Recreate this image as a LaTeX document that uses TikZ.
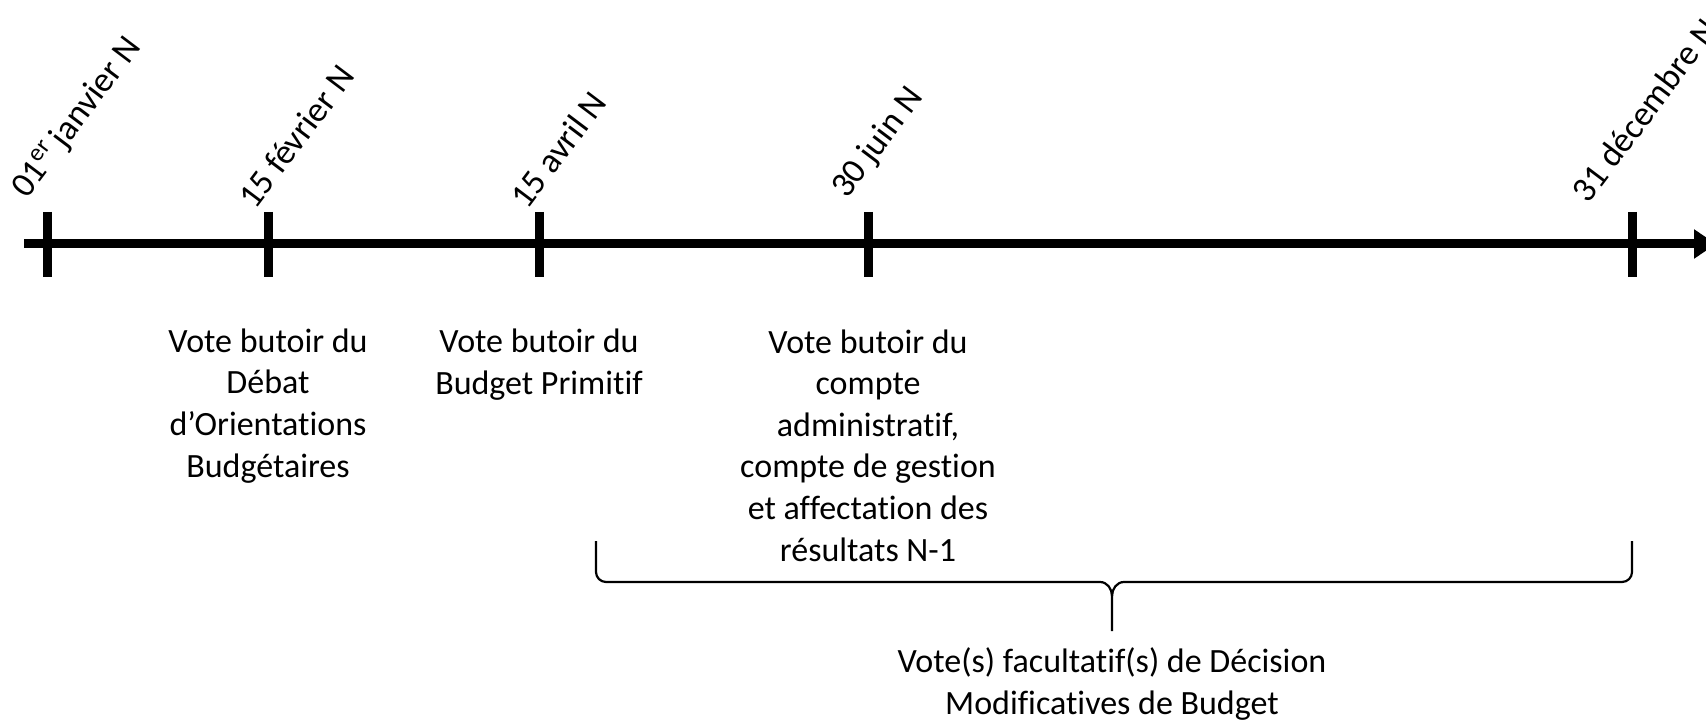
\documentclass[tikz,border=0pt]{standalone}
\usepackage{fontspec}
\setmainfont{Carlito}[Ligatures=NoCommon]
\usetikzlibrary{arrows.meta}
\begin{document}
\begin{tikzpicture}[x=0.5pt,y=-0.5pt,
  axisline/.style={line width=4.5pt},
  tickmark/.style={line width=4.5pt},
  datelabel/.style={rotate=53,anchor=base west,inner sep=0pt,font=\fontsize{17.6}{21}\selectfont},
  votetext/.style={align=center,anchor=base,inner sep=0pt,font=\fontsize{17}{20.8}\selectfont},
  bracket/.style={line width=1.1pt,line join=round}]
\useasboundingbox (0,0) rectangle (1706,721);

% time axis
\coordinate (axstart) at (24,244);
\coordinate (axend) at (1716,244);
\draw[axisline,-{Triangle[length=11pt,width=14pt]}] (axstart) -- (axend);

% tick marks
\foreach \n/\x in {t1/47,t2/268,t3/539,t4/868,t5/1632}{
  \coordinate (\n top) at (\x,212);
  \coordinate (\n bot) at (\x,277);
  \draw[tickmark] (\n top) -- (\n bot);
}

% dates
\node[datelabel] (d1) at (27,200) {01\textsuperscript{er}\,janvier N};
\node[datelabel] (d2) at (255,211) {15 février N};
\node[datelabel] (d3) at (527,211) {15 avril N};
\node[datelabel] (d4) at (847,200) {30 juin N};
\node[datelabel] (d5) at (1588,205) {31 décembre N};

% deadlines (placed by the baseline of their last line)
\node[votetext] (v1) at (268,477) {Vote butoir du\\Débat\\d’Orientations\\Budgétaires};
\node[votetext] (v2) at (539,394) {Vote butoir du\\Budget Primitif};
\node[votetext] (v3) at (868,561) {Vote butoir du\\compte\\administratif,\\compte de gestion\\et affectation des\\résultats N-1};

% brace over the optional votes period
\coordinate (bl) at (596,541);
\coordinate (br) at (1632,541);
\coordinate (bm) at (1112,596);
\coordinate (btip) at (1112,631);
\draw[bracket] (bl) -- (596,572) to[out=-90,in=180] (606,582) -- (1100,582)
  to[out=0,in=90] (bm) -- (btip);
\draw[bracket] (br) -- (1632,572) to[out=-90,in=0] (1622,582) -- (1124,582)
  to[out=180,in=90] (bm);

\node[votetext] (v4) at (1112,714) {Vote(s) facultatif(s) de Décision\\Modificatives de Budget};
\end{tikzpicture}
\end{document}
